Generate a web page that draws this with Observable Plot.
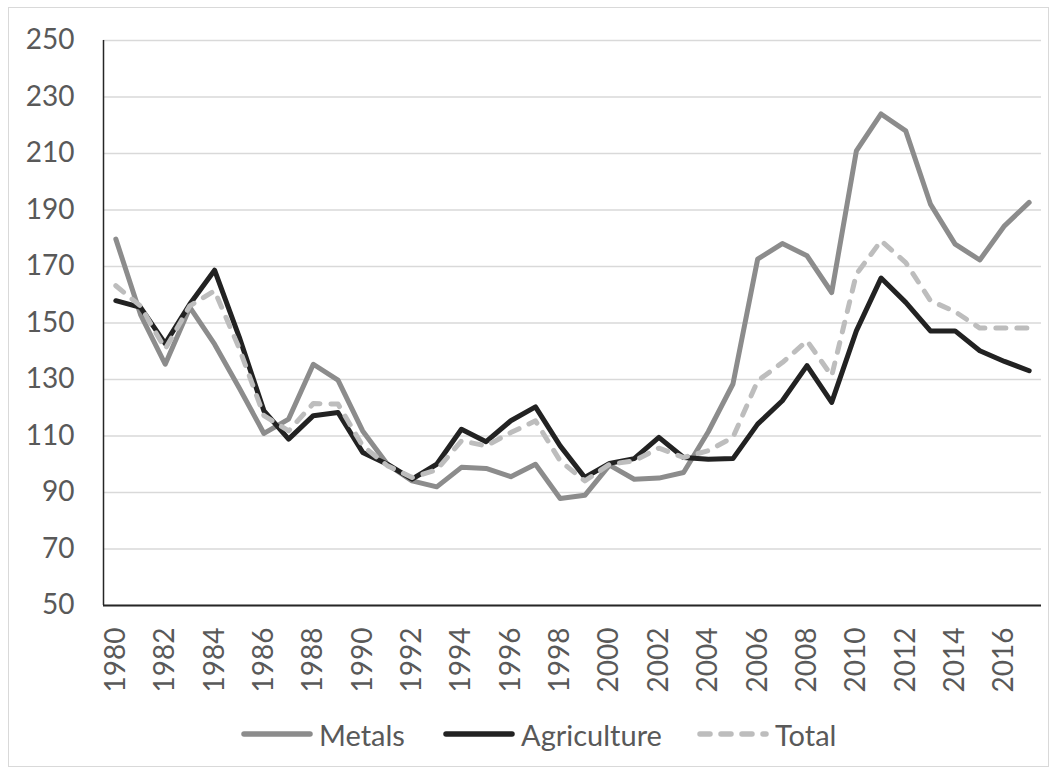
<!DOCTYPE html>
<html>
<head>
<meta charset="utf-8">
<script src="https://cdn.jsdelivr.net/npm/d3@7"></script>
<script src="https://cdn.jsdelivr.net/npm/@observablehq/plot@0.6"></script>
<style>
  html, body { margin: 0; padding: 0; background: #fff; }
  body { width: 1058px; height: 776px; position: relative; overflow: hidden; font-family: Lato, "Open Sans", sans-serif; }
  #frame { position: absolute; left: 8px; top: 7px; width: 1041px; height: 760px; border: 1.5px solid #d9d9d9; box-sizing: border-box; }
  #chart { position: absolute; left: 0; top: 0; }
  .key { position: absolute; top: 712px; display: flex; align-items: center; height: 44px; color: #595959; font-size: 29px; }
  .key svg { margin-right: 6px; }
</style>
</head>
<body>
<div id="frame"></div>
<div id="chart"></div>
<div id="legend"></div>
<script>
// Commodity price indices, 1980–2017
const years = d3.range(1980, 2018);
const metals = [179.7, 153, 135.4, 155.5, 142.5, 127, 110.9, 116, 135.4, 129.8,
  111.8, 100, 94.1, 92, 98.9, 98.5, 95.6, 100, 87.9, 89,
  99.7, 94.7, 95.1, 97.1, 111.5, 128.4, 172.6, 178.1, 173.8, 160.8,
  210.9, 224, 218, 192.1, 177.9, 172.3, 184.4, 192.7];
const agriculture = [157.9, 155.5, 142.7, 156.7, 168.7, 145, 118.9, 108.9, 117.2, 118.3,
  104.2, 100, 94.7, 100, 112.4, 108, 115.4, 120.3, 106.5, 95.3,
  100.3, 102, 109.5, 102.4, 101.8, 102, 114.2, 122.5, 134.9, 121.9,
  147.2, 165.9, 157.3, 147.2, 147.2, 140.2, 136.4, 133.1];
const total = [163.2, 156, 140.8, 156.1, 161.4, 141, 117.2, 111.8, 121.5, 121.3,
  106.5, 99.5, 95.3, 98, 108.3, 106.5, 111.2, 115.4, 101.2, 94.1,
  100, 101.2, 105.7, 102.4, 104.8, 109.5, 129.5, 136, 143.7, 131.3,
  167.3, 179.1, 171.4, 157.9, 154, 148.2, 148.2, 148.2];

const yTicks = d3.range(50, 251, 20);
const xTicks = d3.range(1980, 2017, 2);

const seriesNames = ["Metals", "Agriculture", "Total"];
const seriesColors = ["#8c8c8c", "#222222", "#bdbdbd"];
const seriesDash = [null, null, "10,11"];

const rows = (vals) => years.map((year, i) => ({year, value: vals[i]}));

const lineOpts = (i) => ({
  x: "year", y: "value",
  stroke: seriesColors[i], strokeWidth: 5,
  strokeLinejoin: "round", strokeLinecap: "round",
  strokeDasharray: seriesDash[i] ?? undefined
});

const chart = Plot.plot({
  width: 1058,
  height: 700,
  marginLeft: 103,
  marginRight: 17,
  marginTop: 40,
  marginBottom: 95,
  style: {fontFamily: "Lato, 'Open Sans', sans-serif", fontSize: "28px", color: "#595959", background: "transparent"},
  x: {type: "linear", domain: [1979.5, 2017.5]},
  y: {domain: [50, 250]},
  marks: [
    Plot.gridY(yTicks, {stroke: "#d9d9d9", strokeOpacity: 1, strokeWidth: 1.5}),
    Plot.axisY(yTicks, {tickSize: 0, tickPadding: 29, label: null, fontSize: 28}),
    Plot.axisX(xTicks, {tickSize: 0, tickPadding: 22, tickRotate: -90, label: null, fontSize: 28, tickFormat: d => String(d)}),
    Plot.lineY(rows(metals), lineOpts(0)),
    Plot.lineY(rows(agriculture), lineOpts(1)),
    Plot.lineY(rows(total), lineOpts(2)),
    Plot.ruleX([1979.5], {y1: 50, y2: 250, stroke: "#262626", strokeWidth: 1.5}),
    Plot.ruleY([50], {stroke: "#262626", strokeWidth: 2})
  ]
});
document.getElementById("chart").appendChild(chart);

// Legend below the plot
const legendX = [241, 443, 697];
const legend = document.getElementById("legend");
seriesNames.forEach((name, i) => {
  const item = document.createElement("div");
  item.className = "key";
  item.style.left = legendX[i] + "px";
  const dash = seriesDash[i] ? `stroke-dasharray="${seriesDash[i]}"` : "";
  item.innerHTML = `<svg width="72" height="12"><line x1="3" y1="6" x2="69" y2="6" stroke="${seriesColors[i]}" stroke-width="5.5" stroke-linecap="round" ${dash}/></svg><span>${name}</span>`;
  legend.appendChild(item);
});
</script>
</body>
</html>
